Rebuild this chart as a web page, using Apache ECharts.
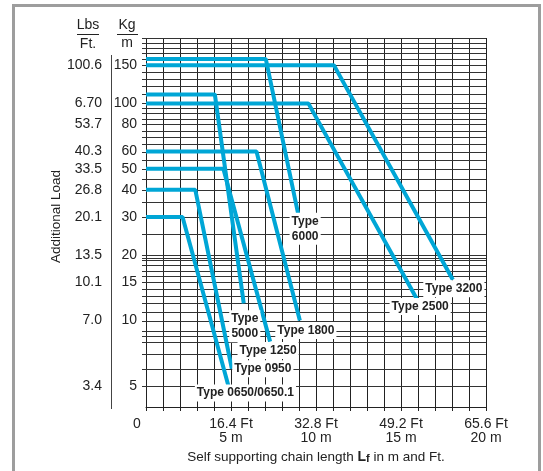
<!DOCTYPE html>
<html>
<head>
<meta charset="utf-8">
<script src="https://cdn.jsdelivr.net/npm/echarts@6/dist/echarts.min.js"></script>
<style>
html, body { margin: 0; padding: 0; background: #fff; }
#chart { width: 543px; height: 471px; }
</style>
</head>
<body>
<div id="chart"></div>
<script>
// chain types and their curves: [length m, load kg/m]
var types = ['Type 0650/0650.1', 'Type 0950', 'Type 1250', 'Type 5000', 'Type 1800', 'Type 6000', 'Type 2500', 'Type 3200'];
var t0650 = [[0, 30], [2.15, 30], [4.85, 5]];
var t0950 = [[0, 40], [2.9, 40], [5.05, 6]];
var t1250 = [[0, 50], [4.55, 50], [7.3, 8]];
var t5000 = [[0, 110], [4.05, 110], [5.75, 12]];
var t1800 = [[0, 60], [6.5, 60], [9.05, 10]];
var t6000 = [[0, 160], [7.05, 160], [8.95, 31]];
var t2500 = [[0, 100], [9.55, 100], [15.95, 12.5]];
var t3200 = [[0, 150], [11.05, 150], [18.05, 15.4]];

// y axis labels (kg/m and lbs/ft)
var kgLabels = [150, 100, 80, 60, 50, 40, 30, 20, 15, 10, 5];
var lbsLabels = ['100.6', '6.70', '53.7', '40.3', '33.5', '26.8', '20.1', '13.5', '10.1', '7.0', '3.4'];
// horizontal grid lines
var gridLoads = [5, 6, 7, 8, 8.5, 9, 10, 11, 12, 13, 14, 15, 16, 17, 18, 19, 19.5, 20, 25,
    30, 35, 40, 45, 50, 55, 60, 65, 70, 75, 80, 85, 90, 95, 100,
    110, 120, 130, 140, 150, 160, 170, 180, 190, 200];
// x axis labels
var xMeters = [0, 5, 10, 15, 20];
var xFeet = ['0', '16.4 Ft', '32.8 Ft', '49.2 Ft', '65.6 Ft'];

var font = 'Liberation Sans, Arial, Helvetica, sans-serif';
var ink = '#222';
var blue = '#00a6d6';

var lines = [t0650, t0950, t1250, t5000, t1800, t6000, t2500, t3200];
var labelText = ['Type 0650/0650.1', 'Type 0950', 'Type 1250', 'Type\n5000', 'Type 1800', 'Type\n6000', 'Type 2500', 'Type 3200'];
var labelOffset = [[17, 7], [31, 0], [-2, 9], [1, 23], [6, 10], [7, 15], [3, 7], [1, 9]];

var series = [];

// grid lines with small stubs to the left
series.push({
    type: 'custom',
    silent: true,
    z: 1,
    data: gridLoads.map(function (v) { return [0, v]; }),
    renderItem: function (params, api) {
        var a = api.coord([0, api.value(1)]);
        var b = api.coord([20, api.value(1)]);
        var y = Math.round(a[1]) + 0.5;
        return {
            type: 'line',
            shape: { x1: a[0] - 4, y1: y, x2: b[0], y2: y },
            style: { stroke: '#333', lineWidth: 1 }
        };
    }
});

// kg + lbs labels
series.push({
    type: 'custom',
    silent: true,
    z: 1,
    data: kgLabels.map(function (v, i) { return [0, v, i]; }),
    renderItem: function (params, api) {
        var p = api.coord([0, api.value(1)]);
        var i = api.value(2);
        return {
            type: 'group',
            children: [{
                type: 'text', x: p[0] - 9, y: p[1],
                style: { text: String(kgLabels[i]), align: 'right', verticalAlign: 'middle', fontSize: 14, fontFamily: font, fill: ink }
            }, {
                type: 'text', x: p[0] - 44, y: p[1],
                style: { text: lbsLabels[i], align: 'right', verticalAlign: 'middle', fontSize: 14, fontFamily: font, fill: ink }
            }]
        };
    }
});

lines.forEach(function (d, i) {
    series.push({
        name: types[i],
        type: 'line',
        data: d,
        symbol: 'none',
        silent: true,
        z: 3,
        lineStyle: { color: blue, width: 4 },
        markPoint: {
            symbol: 'circle',
            symbolSize: 1,
            silent: true,
            itemStyle: { color: 'rgba(0,0,0,0)' },
            label: {
                show: true,
                position: 'inside',
                offset: labelOffset[i],
                formatter: labelText[i],
                color: ink,
                fontFamily: font,
                fontWeight: 'bold',
                fontSize: 12,
                lineHeight: 15,
                backgroundColor: '#fff',
                padding: [1, 2]
            },
            data: [{ coord: d[d.length - 1] }]
        }
    });
});

var myChart = echarts.init(document.getElementById('chart'));
var option = {
    backgroundColor: '#fff',
    animation: false,
    grid: { left: 146, right: 57, top: 38, bottom: 64 },
    xAxis: {
        type: 'value',
        min: 0,
        max: 20,
        interval: 1,
        name: '{a|Self supporting chain length }{b|L}{s|f}{a| in m and Ft.}',
        nameLocation: 'middle',
        nameGap: 36,
        nameTextStyle: {
            rich: {
                a: { fontSize: 13.5, fontFamily: font, color: ink },
                b: { fontSize: 14, fontFamily: font, color: ink, fontWeight: 'bold' },
                s: { fontSize: 11, fontFamily: font, color: ink, fontWeight: 'bold', padding: [5, 0, 0, 0] }
            }
        },
        axisLine: { lineStyle: { color: ink, width: 1 } },
        axisTick: { show: true, length: 4, lineStyle: { color: ink } },
        splitLine: { show: true, lineStyle: { color: ink, width: 1 } },
        axisLabel: {
            interval: 0,
            margin: 10,
            fontSize: 14,
            lineHeight: 14,
            fontFamily: font,
            color: ink,
            formatter: function (v) {
                var k = xMeters.indexOf(v);
                if (k < 0) return '';
                if (k === 0) return '{z|0}';
                return xFeet[k] + '\n' + v + ' m';
            },
            rich: { z: { fontSize: 14, fontFamily: font, color: ink, padding: [0, 18, 0, 0] } }
        }
    },
    yAxis: {
        type: 'log',
        logBase: 10,
        min: 4,
        max: 200,
        name: 'Additional Load',
        nameLocation: 'middle',
        nameGap: 83,
        nameRotate: 90,
        nameTextStyle: { fontSize: 13.5, fontFamily: font, color: ink, padding: [0, 0, 0, 12] },
        axisLine: { show: false },
        axisTick: { show: false },
        axisLabel: { show: false },
        splitLine: { show: false }
    },
    graphic: [
        { type: 'rect', silent: true, shape: { x: 13.5, y: 5.5, width: 526, height: 480 }, style: { fill: 'none', stroke: '#9d9d9d', lineWidth: 3 } },
        { type: 'text', silent: true, x: 88, y: 25, style: { text: 'Lbs', align: 'center', verticalAlign: 'middle', fontSize: 14, fontFamily: font, fill: ink } },
        { type: 'line', silent: true, shape: { x1: 77, y1: 34.5, x2: 99, y2: 34.5 }, style: { stroke: ink, lineWidth: 1 } },
        { type: 'text', silent: true, x: 88, y: 44, style: { text: 'Ft.', align: 'center', verticalAlign: 'middle', fontSize: 14, fontFamily: font, fill: ink } },
        { type: 'text', silent: true, x: 127, y: 25, style: { text: 'Kg', align: 'center', verticalAlign: 'middle', fontSize: 14, fontFamily: font, fill: ink } },
        { type: 'line', silent: true, shape: { x1: 117, y1: 34.5, x2: 138, y2: 34.5 }, style: { stroke: ink, lineWidth: 1 } },
        { type: 'text', silent: true, x: 127, y: 43, style: { text: 'm', align: 'center', verticalAlign: 'middle', fontSize: 14, fontFamily: font, fill: ink } },
        { type: 'line', silent: true, shape: { x1: 111.5, y1: 55, x2: 111.5, y2: 409 }, style: { stroke: '#444', lineWidth: 1 } }
    ],
    series: series
};
myChart.setOption(option, true);
window.onresize = myChart.resize;
</script>
</body>
</html>
